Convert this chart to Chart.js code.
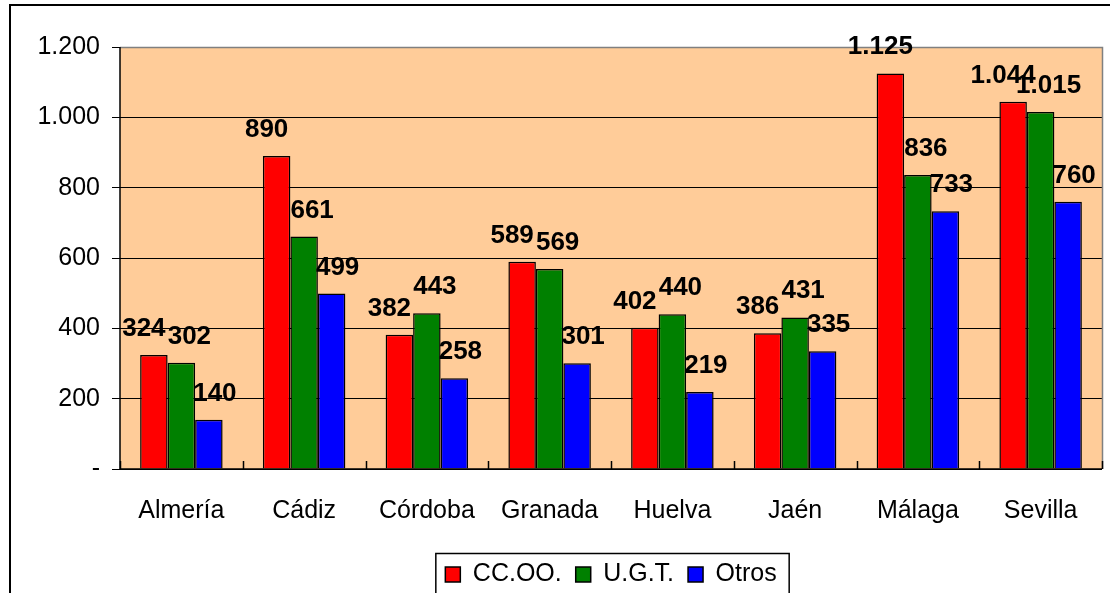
<!DOCTYPE html>
<html>
<head>
<meta charset="utf-8">
<script src="https://cdn.jsdelivr.net/npm/chart.js@4.4.1/dist/chart.umd.min.js"></script>
<style>
  html, body { margin: 0; padding: 0; background: #fff; }
  #wrap { width: 1115px; height: 593px; }
</style>
</head>
<body>
<div id="wrap"><canvas id="myBarChart" width="1115" height="593"></canvas></div>
<script>
// Data
var provincias = ['Almería', 'Cádiz', 'Córdoba', 'Granada', 'Huelva', 'Jaén', 'Málaga', 'Sevilla'];
var ccoo  = [324, 890, 382, 589, 402, 386, 1125, 1044];
var ugt   = [302, 661, 443, 569, 440, 431, 836, 1015];
var otros = [140, 499, 258, 301, 219, 335, 733, 760];
var yTicks = [0, 200, 400, 600, 800, 1000, 1200];

var FONT = 'Arial, "Liberation Sans", sans-serif';

// 1.125 style numbers, "-" for zero
function fmt(v) {
    if (v === 0) return '-';
    return String(v).replace(/\B(?=(\d{3})+(?!\d))/g, '.');
}

// frame, plot background, borders, inner ticks, value labels
var decor = {
    id: 'decor',
    afterLayout: function (chart) {
        // centre the legend under the plot area, a bit lower
        var lg = chart.legend, a = chart.chartArea;
        lg.left = a.left;
        lg.right = a.right;
        lg.width = a.right - a.left;
        lg.top += 4;
        lg.bottom += 4;
    },
    beforeDraw: function (chart) {
        var c = chart.ctx, a = chart.chartArea;
        c.save();
        c.fillStyle = '#FFCC99';
        c.fillRect(a.left, a.top, a.right - a.left, a.bottom - a.top);
        // outer frame (runs off the right / bottom edge)
        c.strokeStyle = '#000';
        c.lineWidth = 2;
        c.beginPath();
        c.moveTo(10, 600);
        c.lineTo(10, 5);
        c.lineTo(1110, 5);
        c.stroke();
        c.restore();
    },
    afterDraw: function (chart) {
        var c = chart.ctx, a = chart.chartArea, xs = chart.scales.x;
        c.save();
        // grey plot border top / right
        c.strokeStyle = '#808080';
        c.lineWidth = 1.5;
        c.beginPath();
        c.moveTo(a.left, a.top + 0.5);
        c.lineTo(a.right + 0.5, a.top + 0.5);
        c.lineTo(a.right + 0.5, a.bottom);
        c.stroke();
        // inward tick marks on the category axis
        c.strokeStyle = '#000';
        c.lineWidth = 1.5;
        c.beginPath();
        for (var i = 0; i <= provincias.length; i++) {
            var x = Math.round(xs.getPixelForValue(i - 0.5)) + 0.5;
            c.moveTo(x, a.bottom);
            c.lineTo(x, a.bottom - 8);
        }
        c.stroke();
        // axis lines
        c.beginPath();
        c.moveTo(a.left, a.top);
        c.lineTo(a.left, a.bottom);
        c.lineTo(a.right, a.bottom);
        c.stroke();
        // value labels
        c.fillStyle = '#000';
        c.font = 'bold 26px ' + FONT;
        c.textAlign = 'center';
        c.textBaseline = 'alphabetic';
        chart.data.datasets.forEach(function (ds, di) {
            var meta = chart.getDatasetMeta(di);
            meta.data.forEach(function (bar, j) {
                c.fillText(fmt(ds.data[j]), bar.x + ds.labelShift, bar.y - 19);
            });
        });
        c.restore();
    }
};

// border round the legend items
var legendBox = {
    id: 'legendBox',
    afterDraw: function (chart) {
        var hb = chart.legend.legendHitBoxes;
        if (!hb || !hb.length) return;
        var first = hb[0], last = hb[hb.length - 1];
        var cy = first.top + first.height / 2;
        var c = chart.ctx;
        c.save();
        c.strokeStyle = '#000';
        c.lineWidth = 1.5;
        c.strokeRect(first.left - 9.5, cy - 21, last.left + last.width - first.left + 22, 42);
        c.restore();
    }
};

var ctx = document.getElementById('myBarChart').getContext('2d');

var myBarChart = new Chart(ctx, {
    type: 'bar',
    data: {
        labels: provincias,
        datasets: [
            { label: 'CC.OO.', data: ccoo, backgroundColor: '#FF0000', labelShift: -10 },
            { label: 'U.G.T.', data: ugt, backgroundColor: '#008000', labelShift: 8 },
            { label: 'Otros', data: otros, backgroundColor: '#0000FF', labelShift: 6 }
        ]
    },
    options: {
        responsive: false,
        animation: false,
        devicePixelRatio: 1,
        layout: {
            padding: { left: 10, right: 13, top: 47, bottom: 0 }
        },
        datasets: {
            bar: {
                borderColor: '#000',
                borderWidth: 1.5,
                categoryPercentage: 0.672,
                barPercentage: 1
            }
        },
        scales: {
            x: {
                offset: true,
                grid: { display: false, drawTicks: false },
                border: { display: false },
                ticks: {
                    color: '#000',
                    font: { family: FONT, size: 25 },
                    padding: 27,
                    maxRotation: 0
                },
                afterFit: function (scale) { scale.height = 75; }
            },
            y: {
                min: 0,
                max: 1200,
                afterBuildTicks: function (scale) {
                    scale.ticks = yTicks.map(function (v) { return { value: v }; });
                },
                grid: {
                    color: function (c) { return c.tick && c.tick.value === 1200 ? '#808080' : '#000'; },
                    lineWidth: 1,
                    tickLength: 8,
                    tickColor: '#000'
                },
                border: { display: false },
                ticks: {
                    color: '#000',
                    font: { family: FONT, size: 25 },
                    padding: 12,
                    callback: function (v) { return fmt(v); }
                },
                afterFit: function (scale) { scale.width = 110; }
            }
        },
        plugins: {
            title: { display: false },
            tooltip: { enabled: false },
            legend: {
                display: true,
                position: 'bottom',
                labels: {
                    color: '#000',
                    font: { family: FONT, size: 25 },
                    boxWidth: 15,
                    boxHeight: 15,
                    padding: 14,
                    generateLabels: function (chart) {
                        return chart.data.datasets.map(function (ds, i) {
                            return {
                                text: ds.label,
                                fillStyle: ds.backgroundColor,
                                strokeStyle: '#000',
                                lineWidth: 1.5,
                                datasetIndex: i
                            };
                        });
                    }
                }
            }
        }
    },
    plugins: [decor, legendBox]
});
</script>
</body>
</html>
